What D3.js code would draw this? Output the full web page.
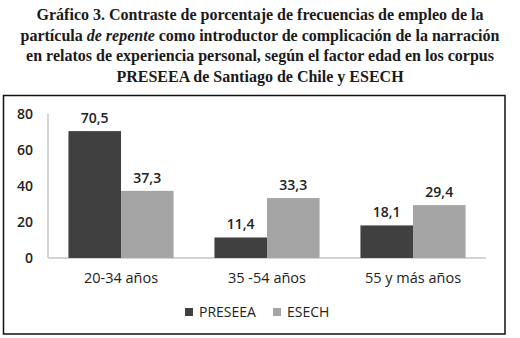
<!DOCTYPE html>
<html lang="es">
<head>
<meta charset="utf-8">
<title>Gráfico 3</title>
<script src="https://d3js.org/d3.v7.min.js"></script>
<style>
  body { margin: 0; background: #fff; }
  svg { display: block; }
</style>
</head>
<body>
<svg id="chart" width="520" height="338"></svg>
<script>
// data
var categories = ["20-34 años", "35 -54 años", "55 y más años"]
var series = ["PRESEEA", "ESECH"]
var preseea = [70.5, 11.4, 18.1]
var esech = [37.3, 33.3, 29.4]
var yTicks = [0, 20, 40, 60, 80]
var titleLines = [
  [{t: "Gráfico 3. Contraste de porcentaje de frecuencias de empleo de la"}],
  [{t: "partícula "}, {t: "de repente", it: true}, {t: " como introductor de complicación de la narración"}],
  [{t: "en relatos de experiencia personal, según el factor edad en los corpus"}],
  [{t: "PRESEEA de Santiago de Chile y ESECH"}]
]

var colors = {PRESEEA: "#404040", ESECH: "#a5a5a5"}
var fmt = function(v) { return d3.format(".1f")(v).replace(".", ",") }

var svg = d3.select("#chart")

// title
var title = svg.append("text")
  .attr("text-anchor", "middle")
  .style("font-family", "'Liberation Serif', serif")
  .style("font-weight", "bold")
  .style("font-size", "16px")
  .attr("fill", "#1a1a1a")
titleLines.forEach(function(line, i) {
  var row = title.append("tspan").attr("x", 260).attr("y", 20 + i * 20.5)
  line.forEach(function(p) {
    row.append("tspan").text(p.t).style("font-style", p.it ? "italic" : null)
  })
})

// frame
svg.append("rect")
  .attr("x", 3.5).attr("y", 95.5)
  .attr("width", 501.5).attr("height", 238.5)
  .attr("fill", "none").attr("stroke", "#111").attr("stroke-width", 1.5)

var x0 = d3.scaleBand().domain(categories).range([48, 486]).paddingInner(0.28).paddingOuter(0.14)
var x1 = d3.scaleBand().domain(series).range([0, x0.bandwidth()])
var y = d3.scaleLinear().domain([0, 80]).range([258, 114])

var font = "'Open Sans', 'Liberation Sans', sans-serif"

// axes
svg.append("line")
  .attr("x1", 48).attr("x2", 48).attr("y1", y(80)).attr("y2", y(0))
  .attr("stroke", "#d4d4d4").attr("stroke-width", 2)
svg.append("line")
  .attr("x1", 48).attr("x2", 486).attr("y1", y(0)).attr("y2", y(0))
  .attr("stroke", "#d4d4d4").attr("stroke-width", 2)

svg.selectAll(".ytick").data(yTicks).enter().append("text")
  .attr("x", 33).attr("y", function(d) { return y(d) + 5 })
  .attr("text-anchor", "end")
  .style("font-family", font).style("font-size", "14px").style("font-weight", "600")
  .attr("fill", "#222")
  .text(function(d) { return d })

// bars
var rows = categories.map(function(c, i) {
  return {cat: c, vals: [{s: "PRESEEA", v: preseea[i]}, {s: "ESECH", v: esech[i]}]}
})

var groups = svg.selectAll(".grp").data(rows).enter().append("g")
  .attr("transform", function(d) { return "translate(" + x0(d.cat) + ",0)" })

groups.selectAll("rect").data(function(d) { return d.vals }).enter().append("rect")
  .attr("x", function(d) { return x1(d.s) })
  .attr("y", function(d) { return y(d.v) })
  .attr("width", x1.bandwidth())
  .attr("height", function(d) { return y(0) - y(d.v) })
  .attr("fill", function(d) { return colors[d.s] })

groups.selectAll(".lbl").data(function(d) { return d.vals }).enter().append("text")
  .attr("x", function(d) { return x1(d.s) + x1.bandwidth() / 2 })
  .attr("y", function(d) { return y(d.v) - 8 })
  .attr("text-anchor", "middle")
  .style("font-family", font).style("font-size", "14px").style("font-weight", "600")
  .attr("fill", "#222")
  .text(function(d) { return fmt(d.v) })

// category labels
svg.selectAll(".cat").data(categories).enter().append("text")
  .attr("x", function(d) { return x0(d) + x0.bandwidth() / 2 })
  .attr("y", 283)
  .attr("text-anchor", "middle")
  .style("font-family", font).style("font-size", "14.5px")
  .attr("fill", "#222")
  .text(function(d) { return d })

// legend
var legX = [185, 273]
var leg = svg.selectAll(".leg").data(series).enter().append("g")
  .attr("transform", function(d, i) { return "translate(" + legX[i] + ",312)" })
leg.append("rect").attr("x", 0).attr("y", -4).attr("width", 8).attr("height", 8)
  .attr("fill", function(d) { return colors[d] })
leg.append("text").attr("x", 14).attr("y", 5)
  .style("font-family", font).style("font-size", "14px")
  .attr("fill", "#222")
  .text(function(d) { return d })
</script>
</body>
</html>
